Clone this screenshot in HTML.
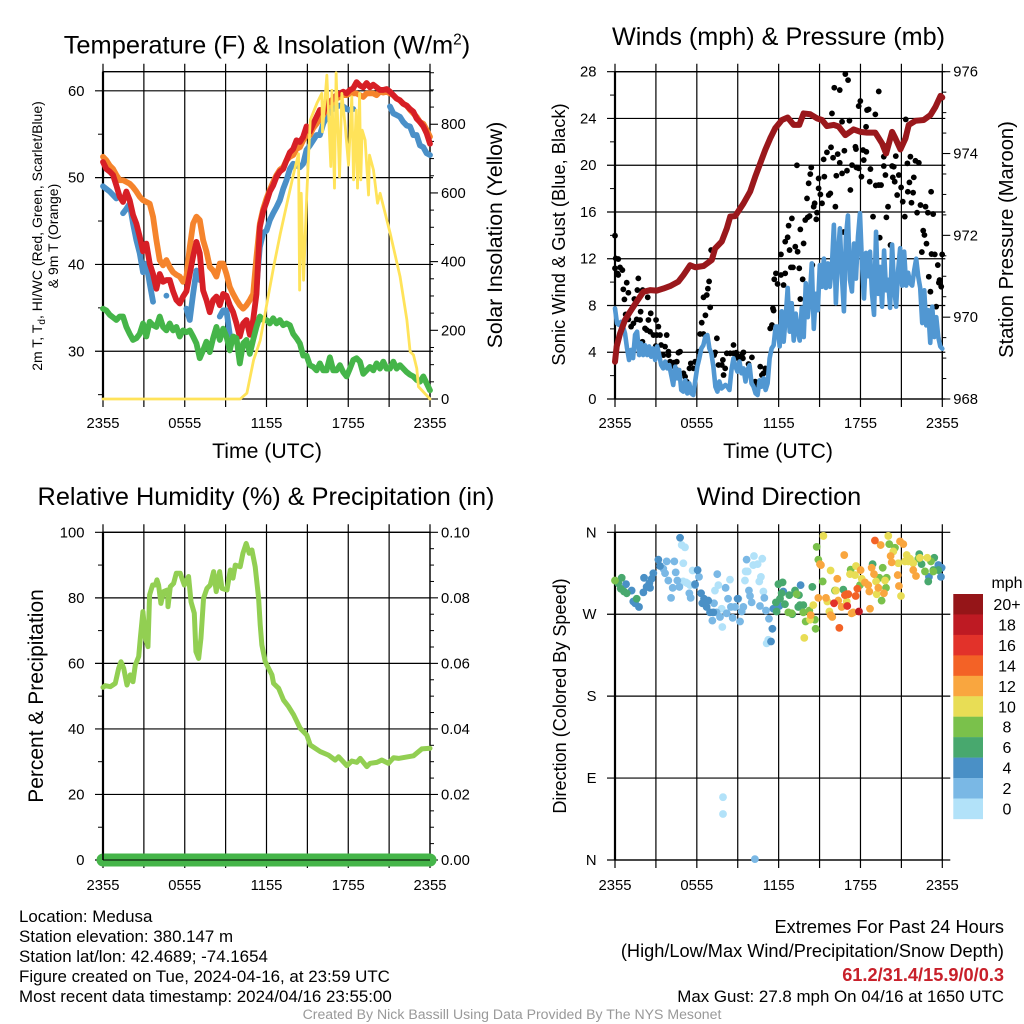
<!DOCTYPE html>
<html lang="en">
<head>
<meta charset="utf-8">
<title>Medusa Station Meteogram</title>
<style>
html,body{margin:0;padding:0;background:#fff;}
svg{display:block;font-family:"Liberation Sans",Arial,sans-serif;}
text{fill:#000;}
</style>
</head>
<body>
<svg id="chart" width="1024" height="1024" viewBox="0 0 1024 1024" xmlns="http://www.w3.org/2000/svg">
  <rect x="0" y="0" width="1024" height="1024" fill="#fff"/>

  <g id="panel-temp"></g>
  <g id="panel-wind"></g>
  <g id="panel-rh"></g>
  <g id="panel-dir"></g>
  <g id="legend"></g>

  <text x="267" y="53.5" text-anchor="middle" font-size="25.4">Temperature (F) &amp; Insolation (W/m<tspan dy="-9" font-size="15.5">2</tspan><tspan dy="9">)</tspan></text>
  <text x="778.5" y="45" text-anchor="middle" font-size="25.2">Winds (mph) &amp; Pressure (mb)</text>
  <text x="266" y="505" text-anchor="middle" font-size="25.3">Relative Humidity (%) &amp; Precipitation (in)</text>
  <text x="779" y="505" text-anchor="middle" font-size="25.3">Wind Direction</text>

  <text x="267" y="458" text-anchor="middle" font-size="21.2">Time (UTC)</text>
  <text x="778" y="458" text-anchor="middle" font-size="21.2">Time (UTC)</text>

  <text transform="translate(42 236) rotate(-90)" text-anchor="middle" font-size="14">2m T, T<tspan dy="3" font-size="10">d</tspan><tspan dy="-3">, HI/WC (Red, Green, Scarlet/Blue)</tspan></text>
  <text transform="translate(58 236) rotate(-90)" text-anchor="middle" font-size="14">&amp; 9m T (Orange)</text>
  <text transform="translate(502 235) rotate(-90)" text-anchor="middle" font-size="21.2">Solar Insolation (Yellow)</text>
  <text transform="translate(565 234.5) rotate(-90)" text-anchor="middle" font-size="18.3">Sonic Wind &amp; Gust (Blue, Black)</text>
  <text transform="translate(1013 239.5) rotate(-90)" text-anchor="middle" font-size="20.2">Station Pressure (Maroon)</text>
  <text transform="translate(43 696) rotate(-90)" text-anchor="middle" font-size="21">Percent &amp; Precipitation</text>
  <text transform="translate(566 696) rotate(-90)" text-anchor="middle" font-size="18.1">Direction (Colored By Speed)</text>

  <g font-size="16.9">
    <text x="19" y="922">Location: Medusa</text>
    <text x="19" y="942">Station elevation: 380.147 m</text>
    <text x="19" y="962">Station lat/lon: 42.4689; -74.1654</text>
    <text x="19" y="982">Figure created on Tue, 2024-04-16, at 23:59 UTC</text>
    <text x="19" y="1002">Most recent data timestamp: 2024/04/16 23:55:00</text>
  </g>
  <g text-anchor="end">
    <text x="1004" y="933" font-size="18.2">Extremes For Past 24 Hours</text>
    <text x="1004" y="957" font-size="18.2">(High/Low/Max Wind/Precipitation/Snow Depth)</text>
    <text x="1004" y="981" font-size="18.2" font-weight="bold" style="fill:#c8202a">61.2/31.4/15.9/0/0.3</text>
    <text x="1004" y="1002" font-size="16.9">Max Gust: 27.8 mph On 04/16 at 1650 UTC</text>
  </g>
  <text x="512" y="1019" text-anchor="middle" font-size="14.1" style="fill:#999">Created By Nick Bassill Using Data Provided By The NYS Mesonet</text>
</svg>

<script>
// ---------- shared time axis ----------
const timeTickHours = [0, 3, 6, 9, 12, 15, 18, 21, 24];
const timeLabelHours = [0, 6, 12, 18, 24];
const timeLabels = ['2355', '0555', '1155', '1755', '2355'];

// ---------- temperature panel (deg F, evenly spaced over 24 h) ----------
const dryBulbF = [
  51.8,51,50.7,50.3,49.1,47.8,47.2,48.4,47.4,45.7,
  44.7,43.2,41.5,42.4,40.1,38.9,37.2,38.9,38,38.2,
  38.2,36.9,35.9,35.5,36.3,36.9,38.9,40.9,42.6,41.3,
  37,35.9,34.5,35.9,36.3,35.3,36.6,36.4,35.3,34.5,
  33.2,31.7,33.2,33.6,31.9,33.6,36.6,44.3,46.1,47.2,
  48.4,49.1,50.1,50.7,51,52,52.9,53.3,54.3,54.1,
  54.7,55.9,55.3,56.2,57,57.8,57.4,58.9,58.7,59.1,
  59.5,59.7,59.9,59.7,60.1,60.3,61,60.6,60.4,60.9,
  60.4,60.7,60.4,60.1,60.1,60.2,59.9,59.5,59.1,58.9,
  58.5,58.3,57.9,57.6,56.8,56.4,55.9,55.1,53.9];
const nineMeterF = [
  52.4,52,51.4,51,50.3,49.7,49.7,49.5,49.3,48.9,
  48.4,47.8,47.4,47.2,47,45.5,42.8,40.5,39.9,40.5,
  39.7,39.1,38.8,38.6,38,38.6,42,44.7,45.5,45.1,
  42.8,41.5,39.7,39.3,38.6,40.1,40.1,38.9,37.4,36.6,
  35.9,35.3,34.9,35.3,35.9,36.6,40.9,44.7,46.4,47.6,
  48.6,49.5,50.3,50.9,51.2,52,52.4,52.6,53.3,53.5,
  54.3,54.9,54.9,55.7,56.2,56.8,57.2,58.1,58.3,58.7,
  59.1,59.3,59.5,59.5,59.7,59.7,59.7,59.5,59.3,59.7,
  59.7,59.7,59.5,59.9,59.8,59.9,59.7,59.5,59.1,58.9,
  58.5,58.3,57.8,57.4,57,56.4,56.2,55.5,54.7];
const dewPointF = [
  34.9,34.7,34.2,33.9,33.6,34,34,32.8,32,31.3,
  31.5,32,33.2,31.7,33.4,33,32.8,34,32.8,32.4,
  33.2,32.4,32.8,31.7,32.4,32.2,32.4,31.7,30.9,29.2,
  30.1,31.1,29.9,31.5,32.8,31.3,32.6,31.7,30.1,31.7,
  31.5,28.6,30.9,31.3,29.7,31.3,32.8,34,33.6,33.6,
  33.2,33.8,33.2,33.6,33,33.2,33,32,31.5,30.9,
  29.5,29.5,28.4,28.2,27.8,28.6,27.8,27.8,29.3,27.8,
  27.8,28.4,27.6,27.1,28,29,29.2,28.8,27.4,27.8,
  28.2,27.8,28.6,28,28.8,28,28,28.8,28,28.4,
  28,27.6,27.3,27.1,26.7,26.5,27.1,26.3,25.5];
const windChillF = [
  49,48.7,48.4,48,47.6,null,45.9,46.4,47,44.7,
  42.8,41.3,39.1,40.1,37.8,35.7,null,null,null,36.4,
  null,null,null,null,null,34.9,33.6,36.6,39.3,38.2,
  null,null,null,null,null,34,34.7,34.7,31.9,null,
  null,null,null,null,null,null,37.4,42,43.6,43.9,
  45.1,45.9,46.6,47.4,48.7,49.7,51,51.6,51.4,51.2,
  51.6,53.2,53.7,54.3,54.9,54.9,56.2,57,57.8,57.9,
  58.2,58.3,58.2,57.9,57.8,57.9,null,null,null,null,
  null,null,null,null,null,null,58.2,57.4,57.2,57,
  56.4,56,55.9,54.9,54.9,53.7,53.5,52.8,52.6];
const solarHours = [0,10.07,10.56,11.05,11.54,12.03,12.52,13.01,13.5,13.99,14.35,14.43,14.55,14.72,14.96,15.21,15.7,16.06,16.11,16.43,16.72,16.8,16.99,17.11,17.36,17.53,17.78,18.02,18.26,18.39,18.58,18.68,18.83,18.92,19.02,19.24,19.49,19.56,19.85,20.15,20.34,21.08,21.8,22.3,22.54,22.79,23.03,23.15,24];
const solarWatts = [0,0,17,113,171,278,384,481,569,656,714,317,599,346,599,812,861,890,778,943,677,899,614,950,647,890,793,681,880,638,841,614,890,638,783,754,594,710,667,570,599,482,357,231,138,128,89,36,0];
const tempLeftMajor = [30, 40, 50, 60];
const tempLeftMinor = [25, 35, 45, 55];
const solarMajor = [0, 200, 400, 600, 800];
const solarMinor = [50, 100, 150, 250, 300, 350, 450, 500, 550, 650, 700, 750, 850, 900, 950];

// ---------- winds panel ----------
const sustainedMph = [
  7.75,6.47,6.33,6.6,6.2,5.6,4.33,3.34,4.2,3.5,5.5,5.76,3.76,4.76,3.76,4.6,3.76,4.5,3.62,4.33,
  3.34,4.5,3.76,2.9,2.62,3.2,2.62,2.9,2.05,1.2,2.77,1.77,2.48,.77,.63,1.6,.48,1.34,.48,.34,
  1.6,2.77,3.48,4.33,4.6,5.33,5.47,4.33,3.9,2.77,1.05,.63,1.5,.9,1.05,1.2,1.05,.77,2.48,3.48,
  2.77,2.34,3.2,2.2,2.62,1.5,2.48,2.9,1.34,1.05,.48,.34,1.6,1.05,1.77,.77,1.34,3.48,4.33,4.6,6.2,
  6.2,4.5,7.5,4.9,7,9.5,5.76,8.2,5,7.3,5.76,5,7.8,5.3,9.9,7,8.75,11.6,6,9,
  7.6,11.46,9.6,12,9.5,11.6,9.6,11.3,14.9,8.2,12.2,14.6,10.5,7.5,13.9,15.7,10.2,9.2,13.3,10.3,
  13.9,15.9,11.6,8.6,12.5,10.5,12.6,9,7.2,14.3,9,11.3,7.9,12.7,9.3,10.2,7.8,13.2,9.5,7.9,
  11,12.9,9.7,12.6,9.7,10.8,9.9,9.7,11,12,10.5,9.5,6.5,9.3,6.3,7.6,4.8,7.9,5.3,7,
  5.3,4.5,4.3];
const pressureHours = [0,.12,.37,.73,1.1,1.59,2.08,2.57,3.06,3.55,4.04,4.65,5.02,5.51,5.88,6.49,7.1,7.34,7.83,8.2,8.45,8.81,9.42,9.91,10.28,10.65,11.02,11.38,11.75,12.24,12.66,13.1,13.51,13.83,14.32,14.81,15.18,15.54,16.03,16.4,16.89,17.5,17.99,18.48,19.09,19.58,19.88,20.32,20.56,20.93,21.3,21.54,22.03,22.64,23.13,23.5,23.87,24];
const pressureMb = [968.91,969.28,969.6,969.93,970.13,970.38,970.62,970.66,970.65,970.7,970.76,970.87,971.03,971.27,971.22,971.25,971.4,971.68,971.85,972.17,972.46,972.47,972.78,973.07,973.43,973.76,974.09,974.37,974.62,974.82,974.88,974.7,974.7,974.98,974.96,974.86,974.82,974.67,974.7,974.66,974.45,974.59,974.53,974.51,974.51,974.25,974,974.53,974.37,974.1,974.37,974.7,974.8,974.82,974.94,975.14,975.41,975.37];
const gustHours = [0,.05,.24,0,.17,.37,.54,.24,.61,.86,.98,.69,1.42,1.64,1.71,2.03,2.4,1.88,.78,.98,1.59,1.84,1.18,1.35,2.2,2.45,2.62,3.01,3.18,2.33,2.57,2.82,3.06,3.3,3.79,2.01,2.99,3.38,3.67,3.92,3.55,3.92,4.04,4.33,4.53,4.65,4.77,4.28,4.53,5.02,5.14,5.26,5.56,5.88,6,5.46,5.75,6.12,6.24,6.49,6.36,6.63,6.98,6.49,6.73,6.81,6.9,
  7.05,7.34,7.27,7.47,7.59,7.83,7.91,8.08,7.96,8.2,8.45,8.69,8.69,8.89,8.81,9.06,9.3,9.42,9.38,9.79,10.04,10.28,10.28,10.65,11.02,10.89,11.06,10.77,
  11.38,11.51,11.58,11.63,11.68,11.8,11.92,12.17,12.36,12.48,12.17,12.9,13.05,13.51,13.76,13.59,13.83,13.22,13.39,12.8,12.48,12.66,12.73,12.97,13.59,13.95,14.13,14.27,14.76,14.81,14.57,14.64,14.08,15.18,14.2,14.32,14.39,13.34,14.93,15.35,14.93,15.06,15.67,15.79,16.16,
  15.3,15.54,15.84,15.99,16.33,16.48,16.82,16.23,16.65,17.01,17.38,17.7,17.87,18.07,17.26,18.68,19.12,19.34,19.51,18.73,18.24,18.19,18.43,17.63,17.67,19.71,19.71,20.32,20.44,20.81,20.37,20.51,19.83,20.02,19.9,18.92,20.69,20.98,21.1,21.25,21.47,21.86,21.74,21.59,21.91,20.59,21.44,21.66,22.03,22.28,
  21.32,19.78,16.65,17.19,15.91,17.87,17.99,18.48,18.6,19.09,18.41,16.08,16.48,16.89,17.09,19.34,
  19.41,20.2,16.77,14.47,22.4,22.77,22.15,22.94,23.33,23.18,22.6,22.69,22.84,22.5,23.21,23.45,23.99,23.67,23.01,23.8,23.92,23.75,23.13,23.55];
const gustMph = [13.97,12.03,11.97,11.18,10.75,11.26,11.03,10.61,9.38,9.95,9.09,8.52,8.55,9.32,10.32,9.32,8.7,7.47,7.24,6.81,6.81,6.76,6.19,6.47,6.04,6.76,7.33,6.76,6.19,5.9,5.76,5.47,5.47,5.47,5.47,4.9,4.53,4.62,4.48,4.05,3.76,3.76,3.19,3.11,3.19,3.96,4.05,2.82,2.48,2.2,1.91,1.48,3.05,3.19,3.05,2.62,2.62,4.05,5.56,5.56,6.53,7.16,7.84,8.7,8.9,9.44,10.06,
  12.74,3.99,3.76,5.19,2.91,2.91,3.34,2.62,2.05,3.91,3.91,4.62,3.91,3.96,3.48,3.62,3.76,3.99,3.48,2.99,3.56,1.48,1.2,2.77,2.62,2.2,2.34,2.05,
  6.04,6.33,7.75,7.56,10.24,10.75,9.84,10.61,9.75,10.75,12.37,11.26,11.26,11.18,10.24,8.55,13.31,13.03,12.6,12.74,13.46,13.83,14.83,15.45,14.51,15.31,15.54,15.65,15.37,15.94,16.45,16.74,17.16,16.74,18.45,19.24,19.81,19.99,18.87,19.02,18.02,17.5,17.45,17.59,16.45,
  20.5,21.1,21.53,20.64,20.95,20.21,21.24,19.1,19.3,19.53,20.01,19.81,19.73,19.02,17.88,18.59,18.27,18.3,18.3,19.67,20.44,21.3,21.15,21.58,21.38,20.73,19.93,19.93,19.87,19.16,18.96,18.59,19.16,16.45,15.54,15.6,17.45,18.1,16.88,15.6,17.73,17.65,16.79,18.53,18.96,20.78,20.16,20.73,20.38,20.21,
  23.92,21.64,23.72,23.81,24.43,25.06,25.49,24.72,24.78,24.35,23.29,26.63,26.43,27.8,27.28,26.31,
  13.8,13.17,14.28,11.46,16.59,16.45,15.94,15.94,15.82,17.73,14.4,14.03,13.29,12.57,12.4,12.37,12.37,11.46,10.46,10.18,9.61,9.95,9.18,7.9];
const windMajor = [0, 4, 8, 12, 16, 20, 24, 28];
const windMinor = [2, 6, 10, 14, 18, 22, 26];
const pressureMajor = [968, 970, 972, 974, 976];
const pressureMinor = [968.5, 969, 969.5, 970.5, 971, 971.5, 972.5, 973, 973.5, 974.5, 975, 975.5];

// ---------- humidity panel ----------
const humidityHours = [0,.17,.54,.9,1.15,1.32,1.52,1.76,2,2.2,2.37,2.62,2.74,2.93,3.11,3.3,3.42,3.64,3.84,3.96,4.08,4.25,4.45,4.74,4.77,4.94,5.18,5.38,5.67,5.97,6.28,6.46,6.7,6.82,7.02,7.19,7.38,7.63,7.87,8.12,8.31,8.56,8.73,9.1,9.34,9.54,9.71,10.07,10.27,10.51,10.73,10.93,11.17,11.42,11.54,11.66,11.91,12.4,12.52,12.89,13.25,13.62,13.99,14.47,14.96,15.21,15.94,16.55,17.04,17.29,17.9,18.26,18.63,18.88,19.36,19.61,20.1,20.46,20.95,21.32,21.69,22.79,23.4,24];
const humidityPct = [52.7,53.2,52.9,53.9,58.5,60.5,58.5,53.4,56.5,54.4,59.5,62.1,67.7,75.8,67.7,65.1,80.9,83.9,83.9,85.5,83.9,78.3,81.9,82.4,77.3,83.4,84.4,87.5,87.5,83.9,86.5,78.8,75.3,63.6,61.5,67.7,79.9,82.9,83.9,88,81.9,88,82.9,82.4,88.5,86,90,89.5,93.6,96.6,93.6,94.6,89.5,79.9,71.7,65.6,60.5,56.5,53.9,52.4,48.8,46.8,44.3,40.2,38.1,35.1,33.1,32,30.5,31.5,28.8,30.2,29.8,31,28.5,29.5,29.8,30.5,29.5,31.2,31,31.8,33.9,34.1];
const precipInches = [0,0,0,0,0,0,0,0,0];
const humidityMajor = [0, 20, 40, 60, 80, 100];
const humidityMinor = [10, 30, 50, 70, 90];
const precipMajor = [0, 0.02, 0.04, 0.06, 0.08, 0.10];
const precipMinor = [0.005,0.01,0.015,0.025,0.03,0.035,0.045,0.05,0.055,0.065,0.07,0.075,0.085,0.09,0.095];

// ---------- wind direction panel (grouped by speed bin) ----------
const directionDegrees = [360, 270, 180, 90, 0];
const directionLabels = ['N', 'W', 'S', 'E', 'N'];
const speedBinMph = [0, 2, 4, 6, 8, 10, 12, 14, 16, 18];
const dirHoursByBin = [
  [4.89,5.13,5.01,5.69,5.3,5.5,5.2,5,7.33,7.58,8.43,7.82,7.87,9.58,9.73,10.19,10.8,10.14,10.46,9.53,10.7,10.58,10.88,11.24,11.12,7.92,7.92],
  [3.79,4.35,3.54,3.67,4.45,3.91,4.57,4.23,4.72,4.11,5.45,5.55,5.87,7.5,8.11,8.29,7.26,7.45,7.14,7.7,8.19,8.63,8.5,8.8,9.04,9.41,9.29,10.02,9.82,9.9,10.63,10.95,11.07,11.29,9.65,9.17,6.16,10.26],
  [4.77,3.18,3.3,2.81,2.69,2.52,2.57,2.32,2.08,2.13,.81,1.22,1.34,1.47,1.76,6.06,5.87,6.31,6.53,6.4,6.84,6.72,6.97,7.21,8.99,11.54,11.44,11.61,12.05,12.34,13.61,23.02,23.9,23.95,23.71],
  [.49,.24,.42,.66,.86,1.59,11.98,12.29,12.22,12.1,11.8,11.85,12.46,12.78,13.2,13.49,13.81,13.44,13.56,14.47,16.74,18.89,22.31,22.48,22.97,23.41,23.71,23.34,13],
  [0,14.79,14.91,15.23,13.32,12.71,12.95,13.98,14.66,14.71,13.81,14.25,16.13,17.28,17.96,19.38,19.92,19.87,19.55,19.63,20.11,20.53,22.73,23.34,23.17,22.24],
  [15.28,14.54,14.3,13.88,15.81,16.2,15.72,15.57,17.23,17.6,17.67,18.09,19.14,19.8,19.19,20.97,20.04,20.41,21.39,21.63,21.51,21.26,21.87,20.77,22.36,22.9,16.99],
  [16.81,15.03,15.1,15.81,15.93,16.3,14.91,15.47,16.37,16.62,17.35,17.47,18.01,18.82,18.99,19.31,18.33,18.57,18.65,19.72,18.7,19.48,20.73,20.82,20.21,20.29,20.9,21.14,21.87,22.07,14.35],
  [19.06,16.45,16.99,17.11,16.86,17.65,17.77],
  [16.06,17.03],
  [17.89]
];
const dirDegreesByBin = [
  [346,343.5,326,318,304,302,305,306,296,302,308,276,256,317,317,334,331,324,325,307,311,306,295,242,238,69,50.5],
  [328,328,320,315,316,307,307,299,300,288,293,288,302,314,299,287,282,272,263,267,271,266,278,278,287,278,273,283,296,290,279,288,274,265,330,262,311,1],
  [354,330,323,315,309,304,299,300,294,310,303,296,284,282,278,318.5,303,293,287,282,285,278,272,272,287,254,240,276,279,295,302,311,311,321,324],
  [310,304,298,295,293,287,303,305,293,287,283,273,281,291,296,291,280,278,280,300,297,325,336,325,306,332,318.5,318.5,270],
  [307,344,330,306,292,272,271,262,264,254,272,274,296,319,302,310,310,299,285,321,347,343,317,317,328,331],
  [356,280,264,244,318,296,273,284,314,313,323,309,306,307,292,290,356,339,335,331,328,328,326,326,332,332,284],
  [335,325,324,269,267,309,288,288,285,278,271,272,318.5,321,314,299,305,302,295,293,276,346,313,301,334,327,350,347,318.5,312,269],
  [351,255,292,292,291,290,298],
  [282,279],
  [273]
];
const legendLabels = ['20+', '18', '16', '14', '12', '10', '8', '6', '4', '2', '0'];

// ---------- styling ----------
const binColors = ['#b2e2f9','#7ab8e5','#4a90c6','#48a86e','#7ac14b','#e8dd55','#f9a63f','#f36226','#e2322a','#be1a23'];
const legendColors = ['#951518','#be1a23','#e2322a','#f36226','#f9a63f','#e8dd55','#7ac14b','#48a86e','#4a90c6','#7ab8e5','#b2e2f9'];

// ---------- axis helpers ----------
const NS = 'http://www.w3.org/2000/svg';
function scale(d0, d1, r0, r1) {
  return v => r0 + (v - d0) / (d1 - d0) * (r1 - r0);
}
function make(tag, attrs, parent) {
  const el = document.createElementNS(NS, tag);
  for (const k in attrs) el.setAttribute(k, attrs[k]);
  parent.appendChild(el);
  return el;
}
function segment(parent, x1, y1, x2, y2, width) {
  return make('line', {x1, y1, x2, y2, stroke: '#000', 'stroke-width': width}, parent);
}
function label(parent, x, y, text, anchor) {
  const t = make('text', {x, y, 'text-anchor': anchor, 'font-size': 14.8}, parent);
  t.textContent = text;
  return t;
}
function linePath(parent, xs, ys, color, width) {
  let d = '';
  let open = false;
  for (let i = 0; i < ys.length; i++) {
    if (ys[i] === null) { open = false; continue; }
    const next = i + 1 < ys.length && ys[i + 1] !== null;
    if (!open) {
      d += 'M' + xs[i].toFixed(2) + ' ' + ys[i].toFixed(2);
      if (!next) d += 'L' + xs[i].toFixed(2) + ' ' + ys[i].toFixed(2);
      open = true;
    } else {
      d += 'L' + xs[i].toFixed(2) + ' ' + ys[i].toFixed(2);
    }
  }
  return make('path', {d, fill: 'none', stroke: color, 'stroke-width': width, 'stroke-linejoin': 'round', 'stroke-linecap': 'round'}, parent);
}
function evenX(values, xs) {
  return values.map((v, i) => xs(i * 24 / (values.length - 1)));
}
function plotSkeleton(g, box, x, yL, yR, cfg) {
  for (const h of timeTickHours) {
    const v = segment(g, x(h), box.top - 8, x(h), box.bottom + 8, 1.2);
    
    
  }
  timeLabelHours.forEach((h, i) => {
    const t = label(g, x(h), box.bottom + cfg.labelOffset, timeLabels[i], 'middle');
    
    
  });
  cfg.leftMajor.forEach((v, i) => {
    const l = segment(g, box.left - 8, yL(v), box.right + cfg.gridOver, yL(v), 1.2);
    
    
    const t = label(g, box.left - 18.5, yL(v) + 5, cfg.leftLabels[i], 'end');
    
    
  });
  for (const v of cfg.leftMinor) {
    const m = segment(g, box.left - 5, yL(v), box.left, yL(v), 1);
    
    
  }
  cfg.rightMajor.forEach((v, i) => {
    const m = segment(g, box.right, yR(v), box.right + 8, yR(v), 1.1);
    
    
    const t = label(g, box.right + 11, yR(v) + 5, cfg.rightLabels[i], 'start');
    
    
  });
  for (const v of cfg.rightMinor) {
    const m = segment(g, box.right, yR(v), box.right + 4, yR(v), 1);
    
    
  }
  const frame = make('path', {d: 'M' + box.left + ' ' + box.top + 'H' + box.right + 'V' + box.bottom + 'H' + box.left + 'Z', fill: 'none', stroke: '#000', 'stroke-width': 1.3}, g);
  
  
  const edge = segment(g, box.left, box.top, box.left, box.bottom, 2.2);
  
  
}

// ---------- temperature panel ----------
(function () {
  const g = document.getElementById('panel-temp');
  const box = {left: 103, right: 430, top: 71.7, bottom: 399};
  const x = scale(0, 24, box.left, box.right);
  const yT = scale(24.5, 62.2, box.bottom, box.top);
  const yS = scale(0, 953, box.bottom, box.top);
  plotSkeleton(g, box, x, yT, yS, {
    leftMajor: tempLeftMajor, leftLabels: tempLeftMajor.map(String), leftMinor: tempLeftMinor,
    rightMajor: solarMajor, rightLabels: solarMajor.map(String), rightMinor: solarMinor, gridOver: 3, labelOffset: 29
  });
  const blue = linePath(g, evenX(windChillF, x), windChillF.map(v => v === null ? null : yT(v)), '#4a90c8', 5.8);
  
  
  const orange = linePath(g, evenX(nineMeterF, x), nineMeterF.map(yT), '#f5842c', 5.8);
  
  
  const red = linePath(g, evenX(dryBulbF, x), dryBulbF.map(yT), '#d71f26', 5.8);
  
  
  const green = linePath(g, evenX(dewPointF, x), dewPointF.map(yT), '#45b549', 5.8);
  
  
  const yellow = linePath(g, solarHours.map(x), solarWatts.map(yS), '#ffe35a', 2.8);
  
  
})();

// ---------- winds panel ----------
(function () {
  const g = document.getElementById('panel-wind');
  const box = {left: 615, right: 942.3, top: 71.7, bottom: 399};
  const x = scale(0, 24, box.left, box.right);
  const yW = scale(0, 28, box.bottom, box.top);
  const yP = scale(968, 976, box.bottom, box.top);
  plotSkeleton(g, box, x, yW, yP, {
    leftMajor: windMajor, leftLabels: windMajor.map(String), leftMinor: windMinor,
    rightMajor: pressureMajor, rightLabels: pressureMajor.map(String), rightMinor: pressureMinor, gridOver: 3, labelOffset: 29
  });
  gustHours.forEach((h, i) => {
    const dot = make('circle', {cx: x(h), cy: yW(gustMph[i]), r: 2.9, fill: '#000'}, g);
    
    
  });
  const wind = linePath(g, evenX(sustainedMph, x), sustainedMph.map(yW), '#5197d2', 4.6);
  
  
  const pressure = linePath(g, pressureHours.map(x), pressureMb.map(yP), '#9a181c', 6);
  
  
})();

// ---------- humidity panel ----------
(function () {
  const g = document.getElementById('panel-rh');
  const box = {left: 103, right: 430, top: 532.3, bottom: 860};
  const x = scale(0, 24, box.left, box.right);
  const yH = scale(0, 100, box.bottom, box.top);
  const yR = scale(0, 0.1, box.bottom, box.top);
  plotSkeleton(g, box, x, yH, yR, {
    leftMajor: humidityMajor, leftLabels: humidityMajor.map(String), leftMinor: humidityMinor,
    rightMajor: precipMajor, rightLabels: precipMajor.map(v => v.toFixed(2)), rightMinor: precipMinor, gridOver: 0, labelOffset: 30
  });
  const precip = linePath(g, evenX(precipInches, x), precipInches.map(yR), '#45b549', 13);
  
  
  const baseline = segment(g, box.left, box.bottom, box.right, box.bottom, 1.1);
  
  
  const edge = segment(g, box.left, box.bottom - 7, box.left, box.bottom, 1.6);
  
  
  const rh = linePath(g, humidityHours.map(x), humidityPct.map(yH), '#92cf52', 5);
  
  
})();

// ---------- direction panel ----------
(function () {
  const g = document.getElementById('panel-dir');
  const box = {left: 615, right: 942.3, top: 532.3, bottom: 860};
  const x = scale(0, 24, box.left, box.right);
  const yD = scale(0, 360, box.bottom, box.top);
  plotSkeleton(g, box, x, yD, yD, {
    leftMajor: directionDegrees, leftLabels: directionLabels, leftMinor: [],
    rightMajor: [], rightLabels: [], rightMinor: [], gridOver: 8, labelOffset: 30
  });
  speedBinMph.forEach((speed, bin) => {
    dirHoursByBin[bin].forEach((h, i) => {
      const dot = make('circle', {cx: x(h), cy: yD(dirDegreesByBin[bin][i]), r: 3.9, fill: binColors[bin]}, g);
      
      
    });
  });
})();

// ---------- legend ----------
(function () {
  const g = document.getElementById('legend');
  const top = 594, h = 20.45;
  const title = make('text', {x: 1007, y: 588, 'text-anchor': 'middle', 'font-size': 16}, g);
  title.textContent = 'mph';
  
  
  legendLabels.forEach((lab, i) => {
    const box = make('rect', {x: 953.3, y: top + i * h, width: 29.7, height: h + 0.2, fill: legendColors[i]}, g);
    
    
    const t = make('text', {x: 1007, y: top + i * h + 16, 'text-anchor': 'middle', 'font-size': 16}, g);
    t.textContent = lab;
    
    
  });
})();
</script>
</body>
</html>
